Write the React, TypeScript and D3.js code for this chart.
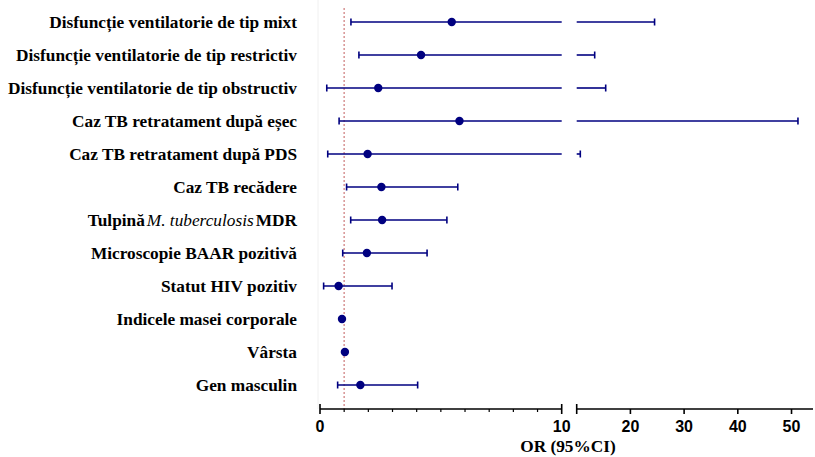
import React from "react";
import * as d3 from "d3";

const labels = [
  "Disfuncție ventilatorie de tip mixt",
  "Disfuncție ventilatorie de tip restrictiv",
  "Disfuncție ventilatorie de tip obstructiv",
  "Caz TB retratament după eșec",
  "Caz TB retratament după PDS",
  "Caz TB recădere",
  "TULPINA",
  "Microscopie BAAR pozitivă",
  "Statut HIV pozitiv",
  "Indicele masei corporale",
  "Vârsta",
  "Gen masculin",
];
const orValues = [5.45, 4.18, 2.41, 5.77, 1.97, 2.54, 2.57, 1.94, 0.77, 0.91, 1.03, 1.67];
const lowerCI = [1.28, 1.61, 0.28, 0.79, 0.32, 1.1, 1.27, 0.94, 0.15, 0.88, 1.01, 0.73];
const upperCI = [24.5, 13.35, 15.4, 51.2, 10.67, 5.7, 5.25, 4.43, 2.98, 0.95, 1.05, 4.04];
const leftTicks = [0, 10];
const minorTicks = [1, 2, 3, 4, 5, 6, 7, 8, 9];
const rightTicks = [20, 30, 40, 50];
const breakValue = 10;

const W = 815;
const H = 457;
const axisY = 409;
const navy = "#000080";

export default function App() {
  const xL = d3.scaleLinear().domain([0, 10]).range([320, 561.7]);
  const xR = d3.scaleLinear().domain([10, 54]).range([576.7, 813]);
  const y = d3
    .scalePoint<number>()
    .domain(labels.map((_, i) => i))
    .range([22, 385]);
  const xv = (v: number) => (v <= breakValue ? xL(v) : xR(v));

  const serif = "'Liberation Serif', 'Times New Roman', serif";
  const sans = "'Liberation Sans', Arial, sans-serif";
  const fs = 17.3;

  return (
    <svg
      width={W}
      height={H}
      style={{ position: "absolute", left: 0, top: 0, background: "#fff" }}
    >
      <line x1={318} x2={318} y1={0} y2={axisY} stroke="#f0f0f0" strokeWidth={1} />
      {/* reference line at OR=1 */}
      <line
        x1={xL(1)}
        x2={xL(1)}
        y1={8}
        y2={axisY}
        stroke="#d99a9a"
        strokeWidth={1.6}
        strokeDasharray="2,2"
      />
      {labels.map((lab, i) => {
        const cy = y(i) as number;
        const lo = lowerCI[i];
        const hi = upperCI[i];
        const segs: JSX.Element[] = [];
        if (hi <= breakValue) {
          segs.push(<line key="a" x1={xL(lo)} x2={xL(hi)} y1={cy} y2={cy} stroke={navy} strokeWidth={1.6} />);
        } else {
          segs.push(<line key="a" x1={xL(lo)} x2={xL(breakValue)} y1={cy} y2={cy} stroke={navy} strokeWidth={1.6} />);
          segs.push(<line key="b" x1={xR(breakValue)} x2={xR(hi)} y1={cy} y2={cy} stroke={navy} strokeWidth={1.6} />);
        }
        return (
          <g key={i}>
            {segs}
            <line x1={xv(lo)} x2={xv(lo)} y1={cy - 3.5} y2={cy + 3.5} stroke={navy} strokeWidth={1.6} />
            <line x1={xv(hi)} x2={xv(hi)} y1={cy - 3.5} y2={cy + 3.5} stroke={navy} strokeWidth={1.6} />
            <circle cx={xv(orValues[i])} cy={cy} r={4.2} fill={navy} />
            {lab === "TULPINA" ? (
              <text x={297} y={cy + 6} textAnchor="end" fontFamily={serif} fontSize={fs} fill="#000">
                <tspan fontWeight="bold">Tulpină</tspan>
                <tspan fontStyle="italic" dx={2}>M. tuberculosis</tspan>
                <tspan fontWeight="bold" dx={2}>MDR</tspan>
              </text>
            ) : (
              <text x={297} y={cy + 6} textAnchor="end" fontFamily={serif} fontWeight="bold" fontSize={fs} fill="#000">
                {lab}
              </text>
            )}
          </g>
        );
      })}
      {/* x axis left segment */}
      <line x1={xL(0)} x2={xL(10)} y1={axisY} y2={axisY} stroke="#000" strokeWidth={1.6} />
      {leftTicks.map((t) => (
        <g key={"l" + t}>
          <line x1={xL(t)} x2={xL(t)} y1={axisY - 5} y2={axisY + 5} stroke="#000" strokeWidth={1.6} />
          <text x={xL(t)} y={432} textAnchor="middle" fontFamily={sans} fontWeight="bold" fontSize={16}>
            {t}
          </text>
        </g>
      ))}
      {minorTicks.map((t) => (
        <line key={"m" + t} x1={xL(t)} x2={xL(t)} y1={axisY} y2={axisY + 3} stroke="#000" strokeWidth={1.2} />
      ))}
      {/* x axis right segment */}
      <line x1={xR(10)} x2={xR(54)} y1={axisY} y2={axisY} stroke="#000" strokeWidth={1.6} />
      <line x1={xR(10)} x2={xR(10)} y1={axisY - 5} y2={axisY + 5} stroke="#000" strokeWidth={1.6} />
      {rightTicks.map((t) => (
        <g key={"r" + t}>
          <line x1={xR(t)} x2={xR(t)} y1={axisY} y2={axisY + 5} stroke="#000" strokeWidth={1.6} />
          <text x={xR(t)} y={432} textAnchor="middle" fontFamily={sans} fontWeight="bold" fontSize={16}>
            {t}
          </text>
        </g>
      ))}
      <text x={568} y={452} textAnchor="middle" fontFamily={serif} fontWeight="bold" fontSize={17.3}>
        OR (95%CI)
      </text>
    </svg>
  );
}
